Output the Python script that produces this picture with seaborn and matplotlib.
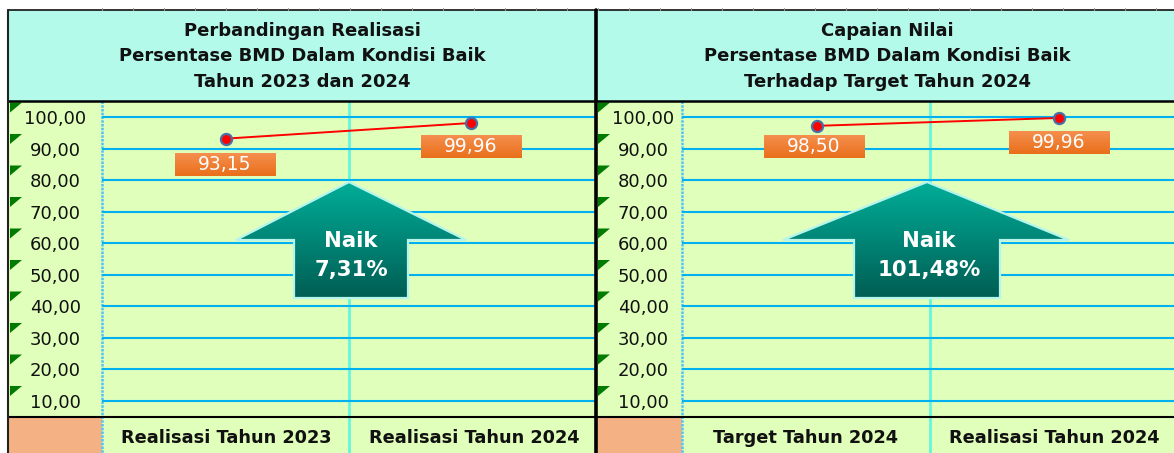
import numpy as np
import pandas as pd
import matplotlib
matplotlib.use("Agg")
import matplotlib.pyplot as plt
from matplotlib.patches import Polygon, Rectangle
import seaborn as sns

# Chart values
left_categories = ["Realisasi Tahun 2023", "Realisasi Tahun 2024"]
left_points = [93.15, 98.1]
left_labels = ["93,15", "99,96"]
right_categories = ["Target Tahun 2024", "Realisasi Tahun 2024"]
right_points = [97.2, 99.7]
right_labels = ["98,50", "99,96"]
y_ticks = [10, 20, 30, 40, 50, 60, 70, 80, 90, 100]
y_tick_labels = ["10,00", "20,00", "30,00", "40,00", "50,00", "60,00", "70,00", "80,00", "90,00", "100,00"]
left_title = ["Perbandingan Realisasi", "Persentase BMD Dalam Kondisi Baik", "Tahun 2023 dan 2024"]
right_title = ["Capaian Nilai", "Persentase BMD Dalam Kondisi Baik", "Terhadap Target Tahun 2024"]
left_change = ["Naik", "7,31%"]
right_change = ["Naik", "101,48%"]

W, H = 1174, 453
LIME = "#E0FFBA"
TITLE_BG = "#B3FAEA"
PEACH = "#F4B183"
GRID = "#00B0F0"
DIVIDER = "#5FF5E0"
TITLE_FONT = "DejaVu Sans"
TITLE_SIZE = 13
XLABEL_SIZE = 12.8

sns.set_theme(style="white")
plt.rcParams["font.family"] = "DejaVu Sans"

fig = plt.figure(figsize=(W / 100, H / 100), dpi=100, facecolor="white")


def pixel_axes(zorder):
    a = fig.add_axes([0, 0, 1, 1], zorder=zorder)
    a.set_xlim(0, W)
    a.set_ylim(H, 0)
    a.axis("off")
    a.patch.set_alpha(0)
    return a


bg = pixel_axes(0)
top = pixel_axes(5)


def gradient_fill(patch, c1, c2, extent):
    cmap = matplotlib.colors.LinearSegmentedColormap.from_list("g", [c1, c2])
    im = top.imshow(np.linspace(0, 1, 64).reshape(-1, 1), cmap=cmap, extent=extent,
                    aspect="auto", zorder=3)
    im.set_clip_path(patch)
    top.set_xlim(0, W)
    top.set_ylim(H, 0)


def draw_panel(x0, x_col, x_div, x1, x_first, x_second, cats, points, labels, title, change,
               box_xy, tick_pad, arrow, xlabel_x, title_x):
    # backgrounds
    bg.add_patch(Rectangle((x0, 10), x1 - x0, 91, fc=TITLE_BG, ec="none"))
    bg.add_patch(Rectangle((x0, 101), x1 - x0, 352, fc=LIME, ec="none"))
    bg.add_patch(Rectangle((x0, 417), x_col - x0, 36, fc=PEACH, ec="none"))
    bg.plot([x_div, x_div], [101, 453], color=DIVIDER, lw=1.9)
    bg.plot([x_col, x_col], [101, 453], color="#4FC3F7", lw=1.8, ls=(0, (1, 0.5)))

    # green corner marks in the label column
    for i in range(10):
        yy = 102.5 + i * 31.5
        bg.add_patch(Polygon([(x0 + 2, yy), (x0 + 14, yy), (x0 + 2, yy + 10)], fc="#007A00", ec="none"))

    # data axes
    ax = fig.add_axes([x_col / W, (H - 417) / H, (x1 - x_col) / W, 316 / H], zorder=2)
    ax.patch.set_alpha(0)
    df = pd.DataFrame({"kategori": cats, "nilai": points})
    sns.lineplot(data=df, x="kategori", y="nilai", ax=ax, sort=False, color="#FF0000", lw=1.4,
                 marker="o", markersize=8, markerfacecolor="#FF0000",
                 markeredgecolor="#4A6FA5", markeredgewidth=1.6)
    unit = x_second - x_first
    ax.set_xlim((x_col - x_first) / unit, (x1 - x_first) / unit)
    ax.set_ylim(10 - 16 / 3.156, 100 + 16 / 3.156)
    ax.set_yticks(y_ticks)
    ax.set_yticklabels(y_tick_labels, ha="center", fontsize=13, color="#111111")
    ax.tick_params(axis="y", length=0, pad=tick_pad)
    ax.set_xticks([])
    ax.set_xlabel("")
    ax.set_ylabel("")
    ax.yaxis.grid(True, color=GRID, lw=1.5)
    ax.set_axisbelow(True)
    sns.despine(ax=ax, left=True, bottom=True, right=True, top=True)

    # title lines
    for yy, line in zip([36, 61, 87], title):
        bg.text(title_x, yy, line, ha="center", va="baseline", fontsize=TITLE_SIZE,
                fontweight="bold", family=TITLE_FONT, color="#111111")

    # category labels
    for xx, cat in zip(xlabel_x, cats):
        bg.text(xx, 443, cat, ha="center", va="baseline", fontsize=XLABEL_SIZE,
                fontweight="bold", family=TITLE_FONT, color="#111111")

    # orange value boxes
    for (bx, by), lab in zip(box_xy, labels):
        box = Rectangle((bx, by), 101, 23, fc="none", ec="none", transform=top.transData)
        top.add_patch(box)
        gradient_fill(box, "#F58F4F", "#E96F1A", (bx, bx + 101, by + 23, by))
        top.text(bx + 50, by + 12, lab, ha="center", va="center", fontsize=13.5, color="white", zorder=4)

    # arrow
    tip, wing_l, wing_r, sh_l, sh_r = arrow
    pts = [(tip, 182), (wing_r, 240), (sh_r, 240), (sh_r, 298), (sh_l, 298), (sh_l, 240), (wing_l, 240)]
    poly = Polygon(pts, fc="none", ec="#B5F5EE", lw=1.6, zorder=5, transform=top.transData)
    top.add_patch(poly)
    gradient_fill(poly, "#00AD98", "#005E54", (wing_l, wing_r, 298, 182))
    top.text(tip + 2, 241, change[0], ha="center", va="center", fontsize=15.3, fontweight="bold",
             family=TITLE_FONT, color="white", zorder=6)
    top.text(tip + 2, 270, change[1], ha="center", va="center", fontsize=15.3, fontweight="bold",
             family=TITLE_FONT, color="white", zorder=6)
    return ax


draw_panel(8, 102, 349, 596, 226, 471, left_categories, left_points, left_labels, left_title, left_change,
           [(175, 153), (421, 135)], 33.5, (349, 236, 466, 294, 408), [226, 474], 302)
draw_panel(596, 682, 930, 1174, 817, 1059, right_categories, right_points, right_labels, right_title, right_change,
           [(764, 135), (1009, 131)], 28, (927, 783, 1069, 854, 1000), [806, 1054], 887)

# frame lines
top.plot([8, 1174], [10, 10], color="#111111", lw=1.2)
top.plot([8, 1174], [101, 101], color="black", lw=1.8)
top.plot([8, 1174], [417, 417], color="black", lw=1.5)
top.plot([8, 8], [10, 453], color="#222222", lw=1.5)
top.plot([596, 596], [10, 453], color="black", lw=2.6)

# small ruler marks above the frame
for xx in range(102, 1174, 31):
    top.plot([xx, xx], [8, 10], color="#999999", lw=0.8)

fig.savefig("out.png", dpi=100)
